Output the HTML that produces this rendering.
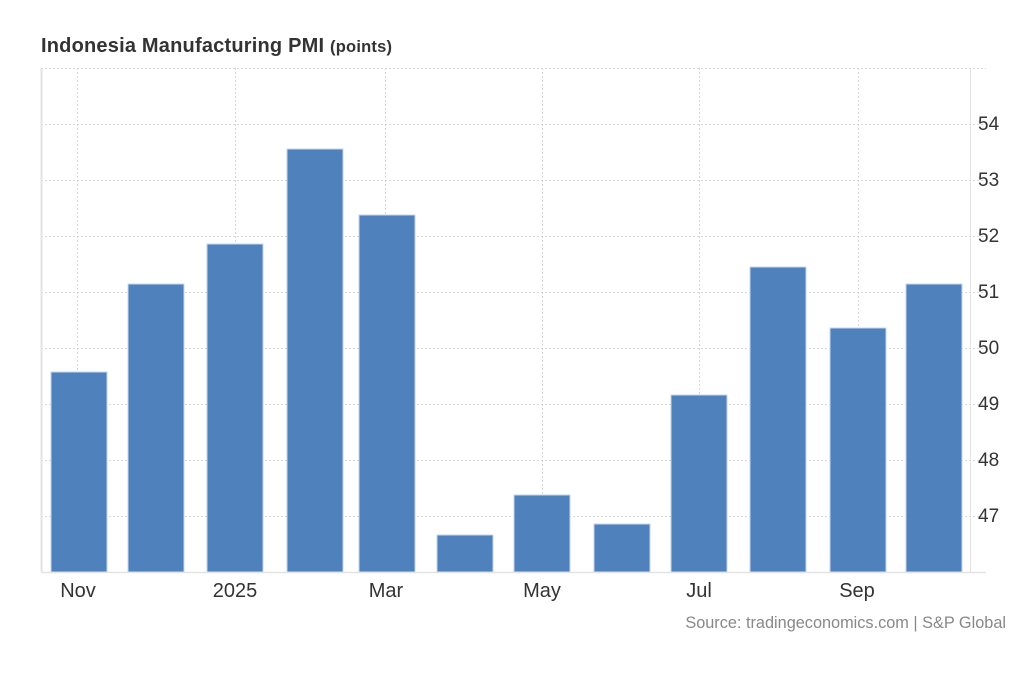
<!DOCTYPE html>
<html><head><meta charset="utf-8"><style>body{margin:0;background:#fff}svg{display:block}</style></head><body>
<svg width="1024" height="700" xmlns="http://www.w3.org/2000/svg" font-family="Liberation Sans, Arial, sans-serif">
<text x="41" y="52" font-size="20" font-weight="bold" fill="#333" textLength="351" lengthAdjust="spacing">Indonesia Manufacturing PMI <tspan font-size="16.5">(points)</tspan></text>
<g stroke="#d8d8d8" stroke-width="1" stroke-dasharray="2,2">
<line x1="41" x2="986" y1="68.5" y2="68.5"/><line x1="41" x2="986" y1="124.5" y2="124.5"/><line x1="41" x2="986" y1="180.5" y2="180.5"/><line x1="41" x2="986" y1="236.5" y2="236.5"/><line x1="41" x2="986" y1="292.5" y2="292.5"/><line x1="41" x2="986" y1="348.5" y2="348.5"/><line x1="41" x2="986" y1="404.5" y2="404.5"/><line x1="41" x2="986" y1="460.5" y2="460.5"/><line x1="41" x2="986" y1="516.5" y2="516.5"/>
<line x1="77.5" x2="77.5" y1="68" y2="572"/><line x1="235.5" x2="235.5" y1="68" y2="572"/><line x1="385.5" x2="385.5" y1="68" y2="572"/><line x1="542.5" x2="542.5" y1="68" y2="572"/><line x1="699.5" x2="699.5" y1="68" y2="572"/><line x1="858.5" x2="858.5" y1="68" y2="572"/>
</g>
<line x1="41.5" x2="41.5" y1="68" y2="572" stroke="#e3e3e3" stroke-width="2"/>
<line x1="970.5" x2="970.5" y1="68" y2="572" stroke="#e3e3e3" stroke-width="1"/>
<g fill="#4f81bd" stroke="#c6d6ea" stroke-width="1">
<rect x="51" y="372" width="56" height="200"/>
<rect x="128" y="284" width="56" height="288"/>
<rect x="207" y="244" width="56" height="328"/>
<rect x="287" y="149" width="56" height="423"/>
<rect x="359" y="215" width="56" height="357"/>
<rect x="437" y="535" width="56" height="37"/>
<rect x="514" y="495" width="56" height="77"/>
<rect x="594" y="524" width="56" height="48"/>
<rect x="671" y="395" width="56" height="177"/>
<rect x="750" y="267" width="56" height="305"/>
<rect x="830" y="328" width="56" height="244"/>
<rect x="906" y="284" width="56" height="288"/>
</g>
<line x1="41" x2="986" y1="572.5" y2="572.5" stroke="#e3e3e3" stroke-width="1.5"/>
<g font-size="19" fill="#333" text-anchor="start">
<text x="978" y="130">54</text><text x="978" y="186">53</text><text x="978" y="242">52</text><text x="978" y="298">51</text><text x="978" y="354">50</text><text x="978" y="410">49</text><text x="978" y="466">48</text><text x="978" y="522">47</text>
</g>
<g font-size="20" fill="#333" text-anchor="middle">
<text x="78" y="597">Nov</text><text x="235" y="597">2025</text><text x="386" y="597">Mar</text><text x="542" y="597">May</text><text x="699" y="597">Jul</text><text x="857" y="597">Sep</text>
</g>
<text x="1006" y="628" font-size="16.3" fill="#888" text-anchor="end">Source: tradingeconomics.com | S&amp;P Global</text>
</svg>
</body></html>
